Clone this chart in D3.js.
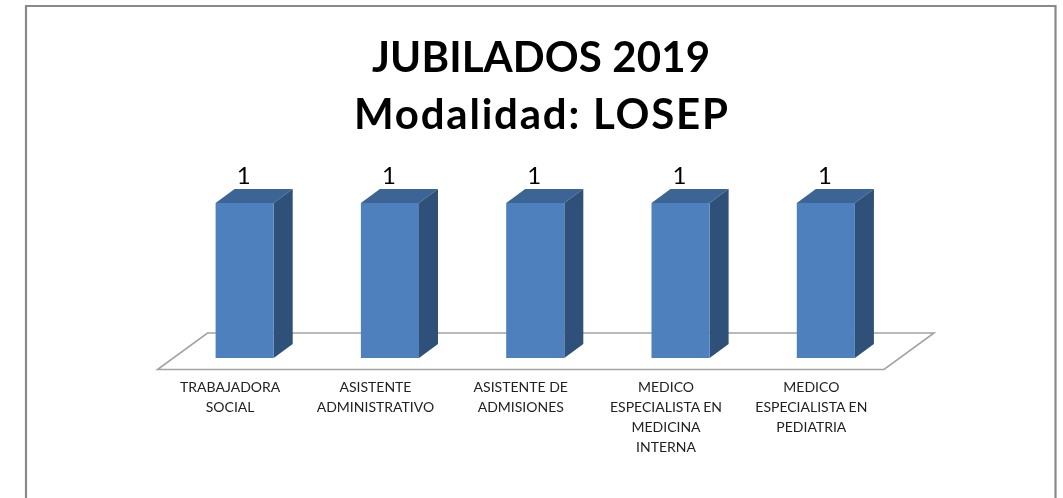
<!DOCTYPE html>
<html>
<head>
<meta charset="utf-8">
<script src="https://cdn.jsdelivr.net/npm/d3@7"></script>
<style>
body { margin: 0; background: #fff; overflow: hidden; }
text { font-family: Lato, "Open Sans", sans-serif; }
</style>
</head>
<body>
<script>
let width = 1063, height = 498

let categories = ['TRABAJADORA SOCIAL', 'ASISTENTE ADMINISTRATIVO', 'ASISTENTE DE ADMISIONES',
    'MEDICO ESPECIALISTA EN MEDICINA INTERNA', 'MEDICO ESPECIALISTA EN PEDIATRIA']
let values = [1, 1, 1, 1, 1]
let labelLines = [
    ['TRABAJADORA', 'SOCIAL'],
    ['ASISTENTE', 'ADMINISTRATIVO'],
    ['ASISTENTE DE', 'ADMISIONES'],
    ['MEDICO', 'ESPECIALISTA EN', 'MEDICINA', 'INTERNA'],
    ['MEDICO', 'ESPECIALISTA EN', 'PEDIATRIA']
]
let titleLines = ['JUBILADOS 2019', 'Modalidad: LOSEP']

let floorY = 369.5
let floorDepth = [50, -36.5]
let barDepth = [19, -14]
let barOffset = [14.5, -11.5]

let x = d3.scaleBand().domain(categories).range([157.5, 884]).paddingInner(0.6).paddingOuter(0.3)
let y = d3.scaleLinear().domain([0, 1]).range([floorY + barOffset[1], 203])

let svg = d3.select('body').append('svg')
    .attr('width', width)
    .attr('height', height)
    .style('display', 'block')
    .style('filter', 'blur(0.4px)')

// frame, the bottom edge is cut off in the picture
svg.append('path')
    .attr('d', 'M26,498V6H1055.5V498')
    .attr('fill', 'none')
    .attr('stroke', '#898989')
    .attr('stroke-width', 2.2)

svg.append('g').selectAll('text')
    .data(titleLines)
    .join('text')
    .attr('x', 541)
    .attr('y', (d, i) => 72 + i * 57)
    .attr('text-anchor', 'middle')
    .attr('font-size', 42)
    .attr('font-weight', 700)
    .attr('fill', '#000')
    .attr('textLength', (d, i) => i ? 374 : 338)
    .text(d => d)

// floor of the 3d plot
let x0 = x.range()[0], x1 = x.range()[1]
svg.append('path')
    .attr('d', d3.line()([
        [x0, floorY],
        [x1, floorY],
        [x1 + floorDepth[0], floorY + floorDepth[1]],
        [x0 + floorDepth[0], floorY + floorDepth[1]]
    ]) + 'Z')
    .attr('fill', '#fff')
    .attr('stroke', '#a3a3a3')
    .attr('stroke-width', 1.6)

let bars = svg.append('g').selectAll('g')
    .data(categories)
    .join('g')
    .attr('transform', d => `translate(${x(d) + barOffset[0]},0)`)

let w = x.bandwidth()
let [dx, dy] = barDepth

// top face
bars.append('path')
    .attr('fill', '#3c6494')
    .attr('d', (d, i) => {
        let t = y(values[i])
        return `M0,${t}L${dx},${t + dy}H${w + dx}L${w},${t}Z`
    })

// side face
bars.append('path')
    .attr('fill', '#2f5078')
    .attr('d', (d, i) => {
        let t = y(values[i])
        return `M${w},${t}L${w + dx},${t + dy}V${y(0) + dy}L${w},${y(0)}Z`
    })

// front face
bars.append('rect')
    .attr('fill', '#4e80bd')
    .attr('y', (d, i) => y(values[i]))
    .attr('width', w)
    .attr('height', (d, i) => y(0) - y(values[i]))

bars.append('text')
    .attr('x', w / 2 - 1)
    .attr('y', (d, i) => y(values[i]) - 19)
    .attr('text-anchor', 'middle')
    .attr('font-size', 24)
    .attr('fill', '#000')
    .text((d, i) => values[i])

svg.append('g').selectAll('text')
    .data(categories)
    .join('text')
    .attr('x', d => x(d) + w / 2)
    .attr('y', 392)
    .attr('text-anchor', 'middle')
    .attr('font-size', 14)
    .attr('fill', '#222')
    .each(function(d, i) {
        let cx = x(d) + w / 2
        d3.select(this).selectAll('tspan')
            .data(labelLines[i])
            .join('tspan')
            .attr('x', cx)
            .attr('dy', (l, j) => j ? 20 : 0)
            .text(l => l)
    })
</script>
</body>
</html>
